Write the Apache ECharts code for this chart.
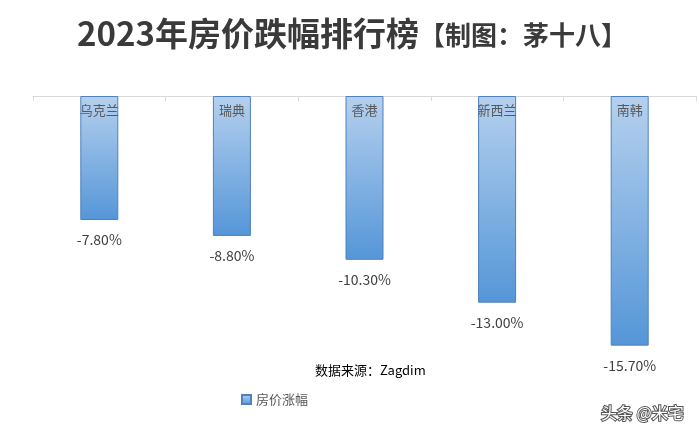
<!DOCTYPE html>
<html><head><meta charset="utf-8">
<script src="https://cdn.jsdelivr.net/npm/echarts@6/dist/echarts.min.js"></script>
<style>html,body{margin:0;padding:0;background:#fff}#c{width:699px;height:434px}</style>
</head><body><div id="c"></div>
<script>
var categories = ['乌克兰', '瑞典', '香港', '新西兰', '南韩'];
var values = [-7.8, -8.8, -10.3, -13.0, -15.7];
var seriesName = '房价涨幅';

var chart = echarts.init(document.getElementById('c'));
var grad = new echarts.graphic.LinearGradient(0, 0, 0, 1, [
  {offset: 0, color: '#b5d0ee'},
  {offset: 1, color: '#5596d8'}
]);
chart.setOption({
  animation: false,
  textStyle: {fontFamily: '"Noto Sans CJK SC", sans-serif'},
  title: [{
    text: '{a|2023年房价跌幅排行榜}{b|【制图：茅十八】}',
    left: 72, top: 12,
    textStyle: {
      rich: {
        a: {fontSize: 33, fontWeight: 'bold', color: '#3a3a3a', fontFamily: '"Noto Sans CJK SC"'},
        b: {fontSize: 26, fontWeight: 'bold', color: '#3a3a3a', fontFamily: '"Noto Sans CJK SC"', padding: [3, 0, 0, 0]}
      }
    }
  }, {
    text: '数据来源：Zagdim',
    left: 310, top: 359,
    textStyle: {fontSize: 13, fontWeight: 'normal', color: '#000', fontFamily: '"Noto Sans CJK SC"'}
  }, {
    text: '头条 @米宅',
    left: 596, top: 400,
    textStyle: {fontSize: 16, fontWeight: 'normal', color: '#ffffff', fontFamily: '"Noto Sans CJK SC"',
      textBorderColor: '#555', textBorderWidth: 2}
  }],
  legend: {
    data: [seriesName], left: 236, top: 388, icon: 'rect', itemWidth: 9, itemHeight: 9, itemGap: 5,
    textStyle: {fontSize: 13, color: '#595959'}
  },
  grid: {left: 33, right: 3, top: 96, height: 254.4},
  xAxis: {
    type: 'category', data: categories, position: 'top',
    axisLine: {lineStyle: {color: '#d9d9d9'}},
    axisTick: {show: true, inside: true, length: 5, lineStyle: {color: '#d9d9d9'}},
    axisLabel: {show: false}
  },
  yAxis: {
    type: 'value', min: -16, max: 0, show: false, splitLine: {show: false}
  },
  series: [{
    name: seriesName, type: 'bar', data: values, barWidth: 38,
    itemStyle: {color: grad, borderColor: '#4f81bd', borderWidth: 1},
    label: {
      show: true, position: 'bottom', distance: 13, fontSize: 14, color: '#404040',
      formatter: function(p){ return p.value.toFixed(2) + '%'; }
    }
  }, {
    name: 'cat', type: 'bar', data: values, barWidth: 38, barGap: '-100%',
    itemStyle: {color: 'transparent'},
    label: {
      show: true, position: 'insideTop', distance: 8, fontSize: 13, color: '#595959',
      formatter: function(p){ return categories[p.dataIndex]; }
    },
    silent: true
  }]
});
</script></body></html>
